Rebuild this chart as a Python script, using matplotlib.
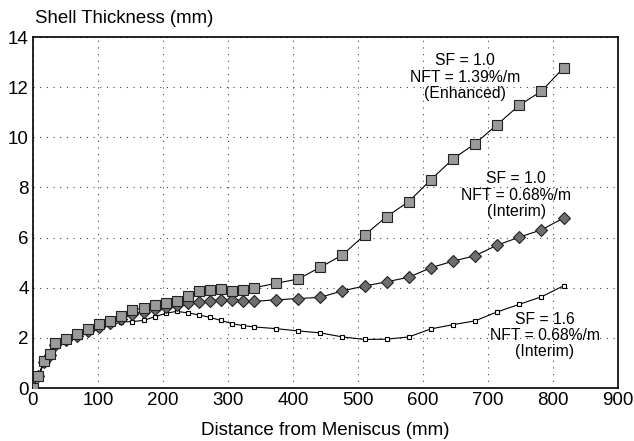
import matplotlib
matplotlib.use('Agg')
import matplotlib.pyplot as plt

# distance from meniscus (mm)
dist = [0, 8.5, 17, 25.5, 34, 51, 68, 85, 102, 119, 136, 153, 170, 187, 204,
        221, 238, 255, 272, 289, 306, 323, 340, 374, 408, 442, 476, 510, 544,
        578, 612, 646, 680, 714, 748, 782, 816]

# shell thickness (mm)
enhanced = [0, 0.5, 1.07, 1.37, 1.8, 1.95, 2.15, 2.37, 2.55, 2.68, 2.87, 3.1,
            3.2, 3.33, 3.41, 3.49, 3.67, 3.86, 3.9, 3.94, 3.87, 3.91, 4.0,
            4.18, 4.35, 4.82, 5.31, 6.1, 6.84, 7.44, 8.31, 9.14, 9.75, 10.51,
            11.28, 11.84, 12.77]
interim_10 = [0, 0.48, 1.03, 1.33, 1.72, 1.9, 2.08, 2.28, 2.45, 2.6, 2.75,
              2.95, 3.05, 3.15, 3.25, 3.3, 3.38, 3.43, 3.48, 3.53, 3.53, 3.48,
              3.46, 3.52, 3.57, 3.62, 3.88, 4.07, 4.24, 4.42, 4.8, 5.06, 5.28,
              5.7, 6.02, 6.31, 6.78]
interim_16 = [0, 0.47, 1.02, 1.3, 1.7, 1.87, 2.03, 2.2, 2.37, 2.5, 2.64, 2.65,
              2.7, 2.84, 2.98, 3.06, 3.0, 2.92, 2.82, 2.7, 2.57, 2.49, 2.44,
              2.37, 2.28, 2.2, 2.04, 1.94, 1.95, 2.04, 2.36, 2.53, 2.68, 3.04,
              3.34, 3.64, 4.08]

plt.rcParams['font.family'] = ['Liberation Sans', 'DejaVu Sans']

fig = plt.figure(figsize=(6.34, 4.41), dpi=100)
ax = fig.add_axes([0.052, 0.12, 0.923, 0.796])

ax.plot(dist, interim_16, '-s', color='black', lw=0.8, ms=3.5,
        mfc='white', mec='black', mew=0.8, zorder=3)
ax.plot(dist, interim_10, '-D', color='black', lw=0.8, ms=6.5,
        mfc='#6e6e6e', mec='#222222', mew=0.8, zorder=4)
ax.plot(dist, enhanced, '-s', color='black', lw=0.8, ms=6.5,
        mfc='#9a9a9a', mec='#222222', mew=0.8, zorder=5)

ax.set_xlim(0, 900)
ax.set_ylim(0, 14)
ax.set_xticks(range(0, 901, 100))
ax.set_yticks(range(0, 15, 2))
ax.tick_params(length=0, labelsize=13.5, pad=3)
ax.grid(True, linestyle=(0, (1, 5)), color='#444444', lw=0.8)
for s in ax.spines.values():
    s.set_linewidth(1.2)

ax.set_xlabel('Distance from Meniscus (mm)', fontsize=13.5, labelpad=9)
fig.text(0.055, 0.958, 'Shell Thickness (mm)', fontsize=13.4, ha='left', va='center')

ax.text(664, 12.4, 'SF = 1.0\nNFT = 1.39%/m\n(Enhanced)', ha='center', va='center',
        fontsize=11.3, linespacing=1.1)
ax.text(743, 7.7, 'SF = 1.0\nNFT = 0.68%/m\n(Interim)', ha='center', va='center',
        fontsize=11.3, linespacing=1.1)
ax.text(787, 2.1, 'SF = 1.6\nNFT = 0.68%/m\n(Interim)', ha='center', va='center',
        fontsize=11.3, linespacing=1.1)

fig.savefig('out.png', dpi=100)
